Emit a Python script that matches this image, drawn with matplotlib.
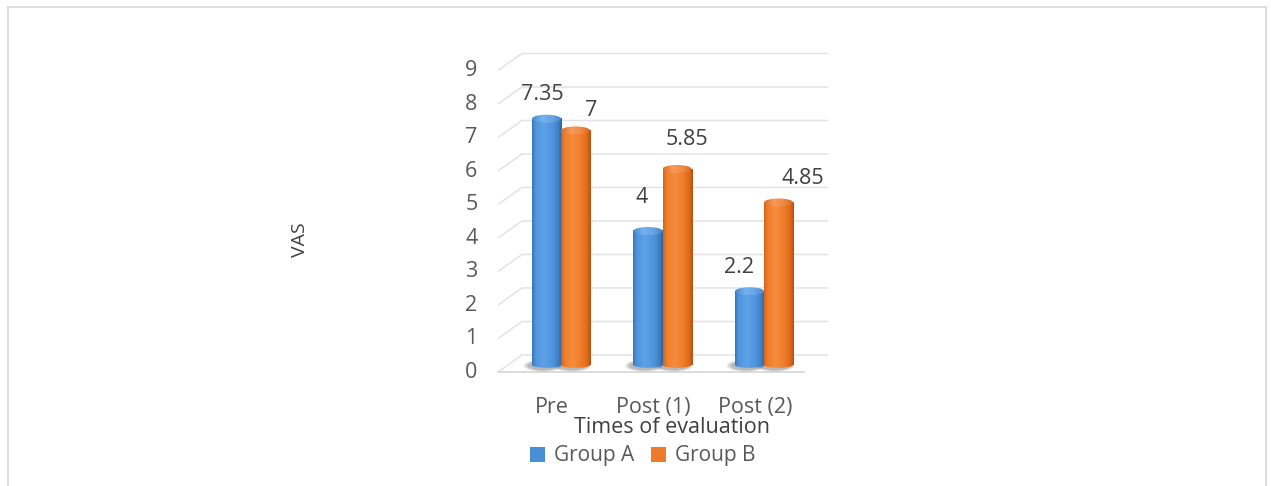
import numpy as np
import matplotlib
matplotlib.use("Agg")
import matplotlib.pyplot as plt
from matplotlib.colors import LinearSegmentedColormap
from matplotlib.patches import Ellipse, Patch
from matplotlib.transforms import ScaledTranslation, offset_copy
from matplotlib.lines import Line2D

# ---- data ----
categories = ["Pre", "Post (1)", "Post (2)"]
group_a = [7.35, 4, 2.2]
group_b = [7, 5.85, 4.85]
series_names = ["Group A", "Group B"]
y_ticks = list(range(10))

# ---- styling ----
W, H = 1271, 486
FONT = "Open Sans"
TEXT = "#595959"
GRID = "#e3e3e3"
FS = 15.5
plt.rcParams["font.family"] = [FONT, "DejaVu Sans"]

blue_cmap = LinearSegmentedColormap.from_list(
    "cyl_blue", [(0, "#3674b8"), (0.12, "#4f95dc"), (0.4, "#5da2e8"),
                 (0.7, "#4f93dc"), (0.88, "#3f7fc4"), (1, "#2b629e")])
orange_cmap = LinearSegmentedColormap.from_list(
    "cyl_orange", [(0, "#d2631a"), (0.12, "#ef7e2c"), (0.4, "#f68c3e"),
                   (0.7, "#ef7a26"), (0.88, "#dc6a1a"), (1, "#b3500f")])
blue_top = LinearSegmentedColormap.from_list(
    "top_blue", ["#4a89cc", "#72b2ee", "#66a7e6", "#4583c6"])
orange_top = LinearSegmentedColormap.from_list(
    "top_orange", ["#dd6e24", "#f79a58", "#f08a44", "#d06418"])

fig = plt.figure(figsize=(W / 100, H / 100), dpi=100)


def px_box(left, top, right, bottom):
    return [left / W, 1 - bottom / H, (right - left) / W, (bottom - top) / H]


ax = fig.add_axes(px_box(490, 40, 830, 380))
for s in ax.spines.values():
    s.set_visible(False)
ax.set_xlim(-0.6995, 2.650)
ax.set_ylim(-0.448, 9.70)

x = np.arange(len(categories))
bar_w = 0.286
cap_h = 0.24  # vertical size of the elliptical caps, in data units

# perspective grid: front diagonal + back wall line for every tick
x_front, x_back, x_end = -0.62, -0.384, 2.63
inv = ax.transData.inverted()
for v in y_ticks:
    fx, fy = ax.transData.transform((x_front, v))
    bx, by = ax.transData.transform((x_back, v))
    ex, _ = ax.transData.transform((x_end, v))
    p0, p1, p2 = inv.transform([(fx, fy - 7), (bx, by + 10), (ex, by + 10)])
    ax.plot([p0[0], p1[0], p2[0]], [p0[1], p1[1], p2[1]],
            color=GRID, lw=1.1, zorder=0, solid_capstyle="butt")

# floor front edge
fx0, fy0 = ax.transData.transform((x_front, 0))
fx1, _ = ax.transData.transform((2.39, 0))
q0, q1 = inv.transform([(fx0, fy0 - 7), (fx1, fy0 - 7)])
ax.plot([q0[0], q1[0]], [q0[1], q1[1]], color="#d9d9d9", lw=1.3, zorder=0)

grad = np.linspace(0, 1, 256).reshape(1, -1)


def cylinder(xc, val, cmap, top_cmap):
    x0, x1 = xc - bar_w / 2, xc + bar_w / 2
    # soft floor shadow, built from stacked translucent ellipses
    for k in range(6):
        sc = 1.35 - 0.07 * k
        ax.add_patch(Ellipse((xc - 0.035, -0.02), bar_w * sc, cap_h * sc * 1.1,
                             facecolor="#404040", alpha=0.07, edgecolor="none",
                             zorder=1))
    # rounded bottom
    bot = Ellipse((xc, 0), bar_w, cap_h * 0.7, facecolor="none", edgecolor="none")
    ax.add_patch(bot)
    im = ax.imshow(grad, cmap=cmap, extent=(x0, x1, -cap_h / 2, cap_h / 2),
                   aspect="auto", zorder=2, interpolation="bilinear")
    im.set_clip_path(bot)
    # body
    ax.imshow(grad, cmap=cmap, extent=(x0, x1, 0, val),
              aspect="auto", zorder=3, interpolation="bilinear")
    # top cap
    top = Ellipse((xc, val), bar_w, cap_h, facecolor="none",
                  edgecolor="none", zorder=4)
    ax.add_patch(top)
    tim = ax.imshow(grad, cmap=top_cmap,
                    extent=(x0, x1, val - cap_h / 2, val + cap_h / 2),
                    aspect="auto", zorder=4, interpolation="bilinear")
    tim.set_clip_path(top)


# bars (invisible rectangles give the geometry, cylinders give the look)
bars_a = ax.bar(x - bar_w / 2, group_a, bar_w, color="none", zorder=3)
bars_b = ax.bar(x + bar_w / 2, group_b, bar_w, color="none", zorder=3)
for r in bars_a:
    cylinder(r.get_x() + r.get_width() / 2, r.get_height(), blue_cmap, blue_top)
for r in bars_b:
    cylinder(r.get_x() + r.get_width() / 2, r.get_height(), orange_cmap, orange_top)

# value labels
dx_a, dy_a = [-4, -6, -11], [24, 33, 24]
dx_b, dy_b = [16, 10, 24], [20, 29, 24]
for i, r in enumerate(bars_a):
    tr = offset_copy(ax.transData, fig=fig, x=dx_a[i], y=dy_a[i], units="dots")
    ax.text(r.get_x() + r.get_width() / 2, r.get_height(), f"{group_a[i]:g}",
            transform=tr, ha="center", va="center", fontsize=FS, color="#404040")
for i, r in enumerate(bars_b):
    tr = offset_copy(ax.transData, fig=fig, x=dx_b[i], y=dy_b[i], units="dots")
    ax.text(r.get_x() + r.get_width() / 2, r.get_height(), f"{group_b[i]:g}",
            transform=tr, ha="center", va="center", fontsize=FS, color="#404040")

ax.set_xlim(-0.6995, 2.650)
ax.set_ylim(-0.448, 9.70)

# axes ticks
ax.set_yticks(y_ticks)
ax.set_yticklabels([str(t) for t in y_ticks], fontsize=FS, color=TEXT)
ax.set_xticks(x)
ax.set_xticklabels(categories, fontsize=FS, color=TEXT)
ax.tick_params(axis="both", length=0)
ax.tick_params(axis="y", pad=9)
ax.tick_params(axis="x", pad=12)
for lbl in ax.get_yticklabels():
    lbl.set_transform(lbl.get_transform() + ScaledTranslation(0, -5 / 100, fig.dpi_scale_trans))
for lbl in ax.get_xticklabels():
    lbl.set_transform(lbl.get_transform() + ScaledTranslation(-9 / 100, 0, fig.dpi_scale_trans))

# axis titles
fig.text(672 / W, 1 - 427 / H, "Times of evaluation", ha="center", va="center",
         fontsize=FS, color="#404040")
fig.text(300 / W, 1 - 240 / H, "VAS", ha="center", va="center", rotation=90,
         fontsize=14, color="#404040")

# legend
handles = [Patch(facecolor="#4a8fd6", edgecolor="none"),
           Patch(facecolor="#ee7a2a", edgecolor="none")]
fig.legend(handles, series_names, loc="center", bbox_to_anchor=(643 / W, 1 - 456 / H),
           ncol=2, frameon=False, fontsize=15, labelcolor=TEXT,
           handlelength=0.7, handleheight=0.7, handletextpad=0.45, columnspacing=0.8)

# outer frame
frame_kw = dict(color="#d9d9d9", lw=1.2, transform=fig.transFigure)
fig.add_artist(Line2D([8 / W, 8 / W], [0, 1 - 7 / H], **frame_kw))
fig.add_artist(Line2D([8 / W, 1266 / W], [1 - 7 / H, 1 - 7 / H], **frame_kw))
fig.add_artist(Line2D([1266 / W, 1266 / W], [0, 1 - 7 / H], **frame_kw))

fig.savefig("out.png", dpi=100)
